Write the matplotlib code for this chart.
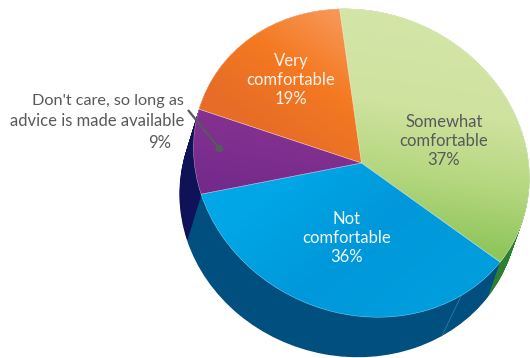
import numpy as np
import matplotlib
matplotlib.use('Agg')
import matplotlib.pyplot as plt
from matplotlib.colors import LinearSegmentedColormap
from matplotlib.patches import Wedge
from matplotlib.transforms import Affine2D

plt.rcParams['font.family'] = ['Lato', 'DejaVu Sans']

labels = ['Somewhat\ncomfortable\n37%', 'Not\ncomfortable\n36%', "Don't care, so long as", 'Very\ncomfortable\n19%']
values = [37, 36, 9, 19]
side_colors = ['#2f7f33', '#004f7f', '#0e1259', '#c9591c']
seam_angle = -55

W, H = 530, 358
squash = 168 / 153.5
start_angle = 97.5

# gradient stops and start/end points of each top slice
top_ramps = [
    (['#d3e5a6', '#cfe29f', '#b5d77f', '#8fc55a'], (430, 40), (400, 240)),
    (['#00a6e5', '#0098da', '#009ddd'], (300, 170), (420, 310)),
    (['#863291', '#732a8b'], (230, 110), (215, 190)),
    (['#f8995a', '#f47921', '#e66c28'], (335, 5), (250, 125)),
]
text_gray = '#58595b'


def dx(x):
    return x / squash


def dy(y):
    return H - y


def tilt(cx, cy, m):
    # leans the ellipse so its right side drops and its left side lifts
    k = m * squash
    return Affine2D(np.array([[1, 0, 0], [-k, 1, k * dx(cx)], [0, 0, 1]], dtype=float))


def rim(cx, cy, r, m, ang):
    a = np.radians(ang)
    return tilt(cx, cy, m).transform((dx(cx) + r * np.cos(a), dy(cy) + r * np.sin(a)))


fig = plt.figure(figsize=(W / 100, H / 100), dpi=100)
ax = fig.add_axes([0, 0, 1, 1])

top = (361.5, 163, 153.5, 0.09)
bottom = (348.5, 202.5, 154.5, 0.05)

# extrusion: stack the same pie from the base up to just under the top face
for t in np.linspace(0, 1, 45):
    cx, cy, r, m = [b + (a - b) * t for a, b in zip(top, bottom)]
    parts, _ = ax.pie(values, colors=side_colors, startangle=start_angle, counterclock=False,
                      center=(dx(cx), dy(cy)), radius=r, wedgeprops={'linewidth': 0.6, 'edgecolor': 'none'})
    for p in parts:
        p.set_transform(tilt(cx, cy, m) + ax.transData)

# faint seam on the blue side wall
p0 = rim(*top, seam_angle + 1.5)
p1 = rim(*bottom, seam_angle - 1.5)
ax.plot([p0[0], p1[0]], [p0[1], p1[1]], color='#3f7fa6', lw=0.5)

top_tilt = tilt(top[0], top[1], top[3])
wedges, _ = ax.pie(values, colors=[r[0][0] for r in top_ramps], startangle=start_angle,
                   counterclock=False, center=(dx(top[0]), dy(top[1])), radius=top[2],
                   wedgeprops={'linewidth': 0})
for wedge in wedges:
    wedge.set_transform(top_tilt + ax.transData)

yy, xx = np.mgrid[0:H, 0:W]
for wedge, (stops, a, b) in zip(wedges, top_ramps):
    vx, vy = b[0] - a[0], b[1] - a[1]
    g = ((xx - a[0]) * vx + (yy - a[1]) * vy) / (vx * vx + vy * vy)
    cmap = LinearSegmentedColormap.from_list('ramp', stops)
    im = ax.imshow(np.clip(g, 0, 1), cmap=cmap, vmin=0, vmax=1, aspect='auto',
                   extent=(0, dx(W), 0, H), origin='upper', zorder=2)
    im.set_clip_path(wedge)
    outline = Wedge(wedge.center, wedge.r, wedge.theta1, wedge.theta2,
                    fc='none', ec='#ffffff', lw=0.4, alpha=0.45, zorder=3)
    ax.add_patch(outline)
    outline.set_transform(top_tilt + ax.transData)

ax.set_xlim(0, dx(W))
ax.set_ylim(0, H)
ax.set_aspect('auto')
ax.axis('off')

fs = 12
ax.text(dx(444), dy(141), labels[0], color=text_gray, fontsize=fs, ha='center', va='center',
        linespacing=1.25, zorder=5)
ax.text(dx(347), dy(238), labels[1], color='#f2fafe', fontsize=fs, ha='center', va='center',
        linespacing=1.25, zorder=5)
ax.text(dx(291), dy(80), labels[3], color='#fdf3ea', fontsize=fs, ha='center', va='center',
        linespacing=1.25, zorder=5)

ax.text(dx(184), dy(101), labels[2], color=text_gray, fontsize=11.7, ha='right', va='center', zorder=5)
ax.text(dx(184), dy(121), 'advice is made available', color=text_gray, fontsize=fs, ha='right',
        va='center', zorder=5)
ax.text(dx(171), dy(143), '9%', color=text_gray, fontsize=fs, ha='right', va='center', zorder=5)

ax.plot([dx(188), dx(219)], [dy(110), dy(148)], color=text_gray, lw=1.6, zorder=5, solid_capstyle='butt')
ax.plot([dx(219)], [dy(148)], 'o', color=text_gray, ms=5.6, mew=0, zorder=5)

fig.savefig('out.png', dpi=100)
